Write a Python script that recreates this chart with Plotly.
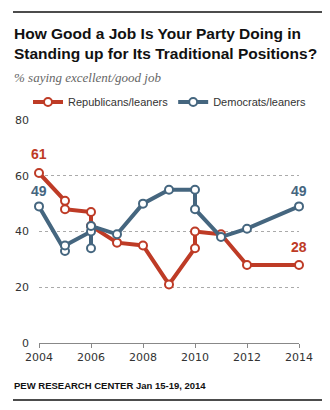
import plotly.graph_objects as go

# Survey waves (by year) and share saying their party does an excellent/good job
rep_years = [2004, 2005, 2005, 2006, 2006, 2007, 2008, 2009, 2010, 2010, 2011, 2012, 2014]
rep_values = [61, 51, 48, 47, 42, 36, 35, 21, 34, 40, 39, 28, 28]

dem_years = [2004, 2005, 2005, 2006, 2006, 2006, 2007, 2008, 2009, 2010, 2010, 2011, 2012, 2014]
dem_values = [49, 33, 35, 40, 34, 42, 39, 50, 55, 55, 48, 38, 41, 49]

y_ticks = [0, 20, 40, 60, 80]
x_ticks = [2004, 2006, 2008, 2010, 2012, 2014]

RED = "#BE3B26"
BLUE = "#45667F"

W, H = 330, 410
L, R, T, B = 39, 31, 120, 67
PW, PH = W - L - R, H - T - B


def px(x):
    return (x - L) / PW


def py(y):
    return (H - B - y) / PH


fig = go.Figure()

for name, xs, ys, color in [
    ("Republicans/leaners", rep_years, rep_values, RED),
    ("Democrats/leaners", dem_years, dem_values, BLUE),
]:
    fig.add_trace(go.Scatter(
        x=xs, y=ys, name=name, mode="lines+markers",
        line=dict(color=color, width=4),
        marker=dict(size=8, color="white", line=dict(color=color, width=2)),
        cliponaxis=False,
        hoverinfo="skip",
    ))

# End-point value labels
labels = [
    (rep_years[0], rep_values[0], RED, 9),
    (dem_years[0], dem_values[0], BLUE, 5),
    (dem_years[-1], dem_values[-1], BLUE, 5),
    (rep_years[-1], rep_values[-1], RED, 8),
]
for x, y, c, shift in labels:
    fig.add_annotation(
        x=x, y=y, text=f"<b>{y}</b>", showarrow=False,
        yanchor="bottom", yshift=shift,
        font=dict(family="Liberation Sans", size=14, color=c),
    )

# Title, subtitle and source
fig.add_annotation(
    xref="paper", yref="paper", x=px(12), y=py(44), xanchor="left", yanchor="middle",
    align="left", showarrow=False,
    text="<b>How Good a Job Is Your Party Doing in<br>Standing up for Its Traditional Positions?</b>",
    font=dict(family="Liberation Sans", size=15.5, color="#111"),
)
fig.add_annotation(
    xref="paper", yref="paper", x=px(12), y=py(77), xanchor="left", yanchor="middle",
    showarrow=False, text="<i>% saying excellent/good job</i>",
    font=dict(family="Liberation Serif", size=13, color="#666"),
)
fig.add_annotation(
    xref="paper", yref="paper", x=px(12), y=py(385), xanchor="left", yanchor="middle",
    showarrow=False, text="<b>PEW RESEARCH CENTER Jan 15-19, 2014</b>",
    font=dict(family="Liberation Sans", size=9.5, color="#111"),
)

# Rules above and below
for yy in (12, 400):
    fig.add_shape(type="line", xref="paper", yref="paper",
                  x0=px(13), x1=px(322), y0=py(yy), y1=py(yy),
                  line=dict(color="#111", width=1.5))

fig.update_layout(
    width=W, height=H,
    margin=dict(l=L, r=R, t=T, b=B),
    paper_bgcolor="white", plot_bgcolor="white",
    showlegend=True,
    legend=dict(
        orientation="h", x=px(28), y=py(102), xanchor="left", yanchor="middle",
        font=dict(family="Liberation Sans", size=11, color="#333"),
        itemwidth=30, tracegroupgap=0, bgcolor="rgba(0,0,0,0)",
    ),
    xaxis=dict(
        range=[2004, 2014], tickvals=x_ticks, showgrid=False, zeroline=False,
        showline=True, linecolor="#888", linewidth=1,
        ticks="outside", ticklen=4, tickcolor="#888",
        tickfont=dict(family="DejaVu Sans", size=11, color="#333"),
        fixedrange=True,
    ),
    yaxis=dict(
        range=[0, 80], tickvals=y_ticks, showgrid=True, gridcolor="#AAAAAA",
        griddash="dot", gridwidth=1, zeroline=False, showline=False,
        ticks="", ticklabelstandoff=9,
        tickfont=dict(family="DejaVu Sans", size=11, color="#333"),
        fixedrange=True,
    ),
)

fig.write_html("out.html")
